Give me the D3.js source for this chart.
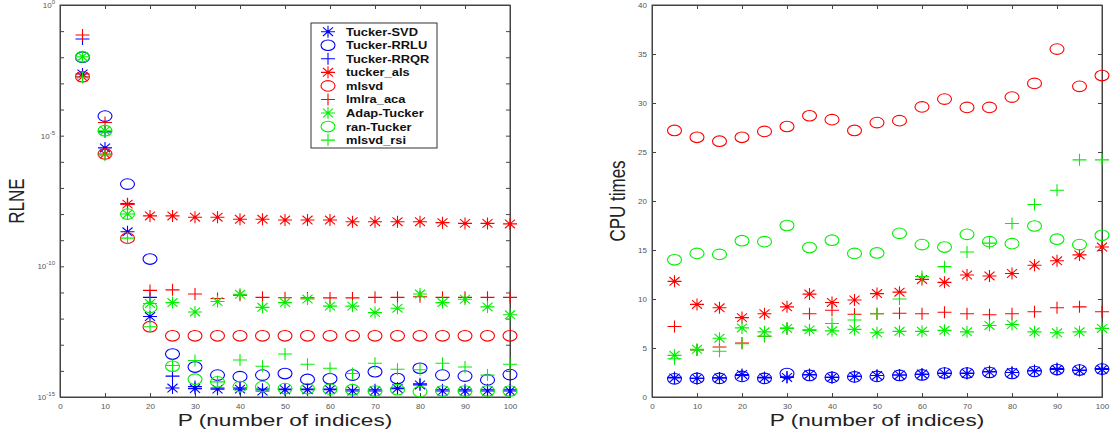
<!DOCTYPE html>
<html>
<head>
<meta charset="utf-8">
<script src="https://cdn.jsdelivr.net/npm/d3@7"></script>
<style>
  body { margin: 0; background: #fff; }
  svg { display: block; font-family: "Liberation Sans", Arial, sans-serif; }
  .tick text { fill: #555; font-size: 8px; }
  .domain { stroke: #444; }
  .tick line { stroke: #444; }
</style>
</head>
<body>
<svg width="1117" height="438"></svg>
<script>
// number of indices
const P = [5, 10, 15, 20, 25, 30, 35, 40, 45, 50, 55, 60, 65, 70, 75, 80, 85, 90, 95, 100]

const names = ['Tucker-SVD', 'Tucker-RRLU', 'Tucker-RRQR', 'tucker_als', 'mlsvd', 'lmlra_aca', 'Adap-Tucker', 'ran-Tucker', 'mlsvd_rsi']
const colors = ['#0000ff', '#0000ff', '#0000ff', '#ff0000', '#ff0000', '#ff0000', '#00f000', '#00f000', '#00f000']
const shapes = ['star', 'circle', 'plus', 'star', 'circle', 'plus', 'star', 'circle', 'plus']

// RLNE (left panel, log scale)
const rlneSVD   = [2.3e-3, 3.4e-6, 2.1e-9, 1.2e-12, 2.2e-15, 2.1e-15, 2.0e-15, 2.0e-15, 1.7e-15, 1.9e-15, 1.9e-15, 1.9e-15, 1.7e-15, 1.7e-15, 2.1e-15, 2.9e-15, 1.7e-15, 1.7e-15, 1.7e-15, 1.7e-15]
const rlneRRLU  = [1.0e-2, 5.6e-5, 1.4e-7, 1.9e-10, 4.4e-14, 1.4e-14, 6.9e-15, 6.0e-15, 6.9e-15, 7.9e-15, 4.7e-15, 5.0e-15, 6.9e-15, 9.3e-15, 5.1e-15, 1.26e-14, 6.9e-15, 6.3e-15, 4.5e-15, 7.2e-15]
const rlneRRQR  = [5.0e-2, 1.4e-5, 2.5e-8, 6.5e-12, 6.3e-15, 2.5e-15, 2.2e-15, 2.2e-15, 2.0e-15, 2.0e-15, 2.0e-15, 2.0e-15, 1.9e-15, 1.9e-15, 2.2e-15, 3.2e-15, 1.9e-15, 1.9e-15, 1.9e-15, 1.9e-15]
const rlneALS   = [1.8e-3, 2.0e-6, 2.4e-8, 8.5e-9, 8.5e-9, 7.6e-9, 7.6e-9, 6.3e-9, 6.3e-9, 5.9e-9, 5.9e-9, 5.9e-9, 5.1e-9, 5.1e-9, 5.1e-9, 5.1e-9, 4.7e-9, 4.4e-9, 4.4e-9, 4.2e-9]
const rlneMLSVD = [1.8e-3, 2.0e-6, 1.2e-9, 4.9e-13, 2.2e-13, 2.2e-13, 2.2e-13, 2.2e-13, 2.2e-13, 2.2e-13, 2.2e-13, 2.2e-13, 2.2e-13, 2.2e-13, 2.2e-13, 2.2e-13, 2.2e-13, 2.2e-13, 2.2e-13, 2.2e-13]
const rlneACA   = [7.1e-2, 3.2e-5, 2.4e-8, 1.2e-11, 1.26e-11, 8.7e-12, 5.9e-12, 7.9e-12, 6.5e-12, 6.3e-12, 6.2e-12, 6.2e-12, 6.2e-12, 6.5e-12, 6.5e-12, 6.9e-12, 6.5e-12, 6.5e-12, 6.5e-12, 6.5e-12]
const rlneAdap  = [1.05e-2, 1.55e-5, 1.0e-8, 3.8e-12, 4.1e-12, 1.8e-12, 4.5e-12, 8.5e-12, 2.7e-12, 4.1e-12, 5.6e-12, 3.0e-12, 3.0e-12, 1.7e-12, 2.5e-12, 8.7e-12, 4.1e-12, 5.5e-12, 2.8e-12, 1.4e-12]
const rlneRan   = [1.05e-2, 1.55e-5, 1.0e-8, 2.7e-12, 1.5e-14, 4.8e-15, 3.8e-15, 2.5e-15, 2.5e-15, 2.1e-15, 2.1e-15, 2.0e-15, 1.9e-15, 1.7e-15, 1.9e-15, 1.6e-15, 1.7e-15, 1.7e-15, 1.7e-15, 1.7e-15]
const rlneRSI   = [1.7e-3, 1.8e-6, 1.2e-9, 4.9e-13, 1.6e-14, 2.5e-14, 3.8e-15, 2.6e-14, 1.5e-14, 4.4e-14, 1.8e-14, 1.26e-14, 7.9e-15, 1.95e-14, 1.15e-14, 1.1e-14, 1.95e-14, 1.4e-14, 6.9e-15, 1.8e-14]

// CPU times (right panel)
const cpuSVD   = [1.95, 1.9, 1.95, 2.3, 1.95, 2.0, 2.3, 2.0, 2.1, 2.2, 2.25, 2.35, 2.4, 2.4, 2.55, 2.5, 2.65, 2.8, 2.7, 2.8]
const cpuRRLU  = [1.85, 1.9, 1.9, 2.1, 1.9, 2.4, 2.2, 2.0, 2.05, 2.1, 2.2, 2.25, 2.45, 2.45, 2.5, 2.4, 2.6, 2.8, 2.75, 2.85]
const cpuRRQR  = [2.0, 1.9, 1.95, 2.2, 2.0, 2.05, 2.25, 2.0, 2.1, 2.2, 2.25, 2.3, 2.45, 2.45, 2.6, 2.5, 2.7, 2.9, 2.75, 2.9]
const cpuALS   = [11.8, 9.45, 9.1, 8.1, 8.5, 9.2, 10.5, 9.65, 9.9, 10.55, 10.7, 12.0, 11.7, 12.45, 12.35, 12.6, 13.45, 13.9, 14.5, 15.3]
const cpuMLSVD = [27.2, 26.5, 26.1, 26.5, 27.1, 27.6, 28.7, 28.3, 27.2, 28.0, 28.2, 29.6, 30.4, 29.55, 29.55, 30.6, 32.0, 35.5, 31.7, 32.8]
const cpuACA   = [7.2, 4.8, 5.1, 5.5, 6.2, 7.0, 8.5, 8.85, 8.45, 8.5, 8.55, 8.5, 8.65, 8.5, 8.4, 8.5, 8.7, 9.1, 9.2, 8.7]
const cpuAdap  = [4.25, 4.87, 6.0, 7.05, 6.65, 7.0, 6.85, 6.75, 6.9, 6.55, 6.7, 6.7, 6.8, 6.65, 7.3, 7.4, 6.65, 6.55, 6.65, 7.0]
const cpuRan   = [14.0, 14.65, 14.55, 15.95, 15.85, 17.5, 15.25, 16.0, 14.65, 14.7, 16.7, 15.55, 15.3, 16.6, 15.85, 15.65, 17.45, 16.1, 15.55, 16.5]
const cpuRSI   = [3.9, 4.8, 4.67, 5.45, 6.2, 7.0, 6.8, 7.5, 7.85, 8.5, 10.0, 12.3, 13.3, 14.8, 15.7, 17.7, 19.65, 21.1, 24.2, 24.2]

const rlne = [rlneSVD, rlneRRLU, rlneRRQR, rlneALS, rlneMLSVD, rlneACA, rlneAdap, rlneRan, rlneRSI]
const cpu = [cpuSVD, cpuRRLU, cpuRRQR, cpuALS, cpuMLSVD, cpuACA, cpuAdap, cpuRan, cpuRSI]

const xTicks = [0, 10, 20, 30, 40, 50, 60, 70, 80, 90, 100]
const logTicks = [1e-15, 1e-14, 1e-13, 1e-12, 1e-11, 1e-10, 1e-9, 1e-8, 1e-7, 1e-6, 1e-5, 1e-4, 1e-3, 1e-2, 1e-1, 1]
const cpuTicks = [0, 5, 10, 15, 20, 25, 30, 35, 40]

const svg = d3.select('svg')
// the source figure is stretched sideways a bit, text too
const sx = 1.33

// marker glyphs, MATLAB-ish
function marker(g, shape, color, x, y) {
  const w = 7, h = 6
  if (shape === 'circle') {
    g.append('ellipse').attr('cx', x).attr('cy', y).attr('rx', 7).attr('ry', 5.3)
      .attr('fill', 'none').attr('stroke', color).attr('stroke-width', 1.1)
  } else {
    let d = `M${x - w},${y}H${x + w}M${x},${y - h}V${y + h}`
    if (shape === 'star') {
      d += `M${x - w * 0.72},${y - h * 0.72}L${x + w * 0.72},${y + h * 0.72}M${x - w * 0.72},${y + h * 0.72}L${x + w * 0.72},${y - h * 0.72}`
    }
    g.append('path').attr('d', d).attr('stroke', color).attr('stroke-width', 1.1).attr('fill', 'none')
    if (shape === 'star') g.append('circle').attr('cx', x).attr('cy', y).attr('r', 1.3).attr('fill', color)
  }
}

function panel(opt) {
  const x = d3.scaleLinear().domain([0, 100]).range([opt.left, opt.right])
  const y = opt.y
  const g = svg.append('g')

  // white box
  g.append('rect').attr('x', opt.left).attr('y', opt.top)
    .attr('width', opt.right - opt.left).attr('height', opt.bottom - opt.top)
    .attr('fill', '#fff').attr('stroke', '#444').attr('stroke-width', 1)

  g.append('g').attr('transform', `translate(0,${opt.bottom})`)
    .call(d3.axisBottom(x).tickValues(xTicks).tickSize(-4).tickPadding(6).tickFormat(d3.format('d')))
  g.append('g').attr('transform', `translate(0,${opt.top})`)
    .call(d3.axisTop(x).tickValues(xTicks).tickSize(-4).tickFormat(''))
  const ya = g.append('g').attr('transform', `translate(${opt.left},0)`)
    .call(d3.axisLeft(y).tickValues(opt.yTicks).tickSize(-4).tickPadding(5).tickFormat(opt.yFormat))
  g.append('g').attr('transform', `translate(${opt.right},0)`)
    .call(d3.axisRight(y).tickValues(opt.yTicks).tickSize(-4).tickFormat(''))
  g.selectAll('.tick line').filter(d => d === 0 || d === 100).attr('opacity', 0)
  if (opt.after) opt.after(ya)

  // data
  opt.series.forEach((vals, i) => {
    const sg = g.append('g')
    vals.forEach((v, k) => marker(sg, shapes[i], colors[i], x(P[k]), y(v)))
  })

  const cx = (opt.left + opt.right) / 2
  g.append('text').attr('transform', `translate(${cx},426) scale(${sx},1)`)
    .attr('text-anchor', 'middle').attr('font-size', 17).attr('fill', '#222')
    .text('P (number of indices)')
  g.append('text').attr('transform', `translate(${opt.ylabelX},${(opt.top + opt.bottom) / 2}) scale(${sx},1) rotate(-90)`)
    .attr('text-anchor', 'middle').attr('font-size', 17).attr('fill', '#222')
    .text(opt.ylabel)
  return g
}

// left: RLNE
const yLog = d3.scaleLog().domain([1e-15, 1]).range([397, 5])
const left = panel({
  left: 60, right: 510, top: 5, bottom: 397,
  y: yLog, yTicks: logTicks, yFormat: () => '',
  series: rlne, ylabel: 'RLNE', ylabelX: 24,
  after: ya => {
    ya.selectAll('.tick').filter(d => [1, 1e-5, 1e-10, 1e-15].includes(d)).select('text')
      .each(function (d) {
        const t = d3.select(this)
        t.append('tspan').text('10')
        t.append('tspan').attr('dy', -4).attr('font-size', 6).text(d === 1 ? '0' : '-' + Math.round(-Math.log10(d)))
      })
  }
})

// legend
const lg = left.append('g')
lg.append('rect').attr('x', 311).attr('y', 23).attr('width', 126).attr('height', 125)
  .attr('fill', '#fff').attr('stroke', '#333').attr('stroke-width', 1)
names.forEach((n, i) => {
  const yy = 31.7 + i * 13.55
  marker(lg, shapes[i], colors[i], 328, yy)
  lg.append('text').attr('transform', `translate(346,${yy + 4}) scale(1.17,1)`)
    .attr('font-size', 11).attr('font-weight', 'bold')
    .attr('fill', '#111').text(n)
})

// right: CPU times
const yLin = d3.scaleLinear().domain([0, 40]).range([397, 5])
panel({
  left: 652, right: 1102, top: 5, bottom: 397,
  y: yLin, yTicks: cpuTicks, yFormat: d3.format('d'),
  series: cpu, ylabel: 'CPU times', ylabelX: 625
})
</script>
</body>
</html>
